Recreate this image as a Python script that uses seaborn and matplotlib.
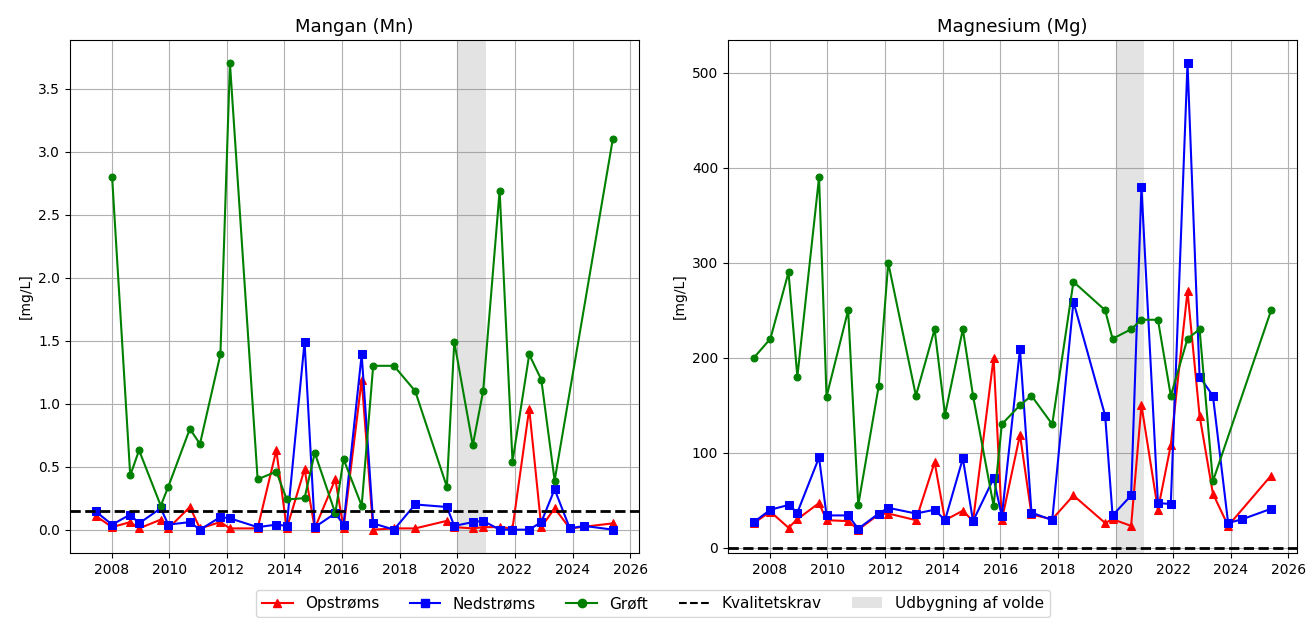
import numpy as np
import pandas as pd
import matplotlib
matplotlib.use('Agg')
import matplotlib.pyplot as plt
import seaborn as sns
from matplotlib.lines import Line2D
from matplotlib.patches import Patch

# prøvetagningsdatoer
datoer = ['2007-06-13', '2008-01-08', '2008-08-25', '2008-12-15', '2009-09-16',
          '2009-12-20', '2010-09-20', '2011-01-26', '2011-10-12', '2012-02-10',
          '2013-01-26', '2013-09-20', '2014-01-30', '2014-09-13', '2015-01-20',
          '2015-10-08', '2016-01-20', '2016-09-06', '2017-01-30', '2017-10-20',
          '2018-07-16', '2019-08-22', '2019-11-24', '2020-07-16', '2020-11-24',
          '2021-06-21', '2021-12-01', '2022-07-01', '2022-12-01', '2023-05-19',
          '2023-11-28', '2024-05-26', '2025-05-26']

nan = np.nan

# Mangan (Mn) [mg/L]
mn_op = [0.11, 0.02, 0.06, 0.01, 0.08, 0.01, 0.18, 0.01, 0.06, 0.01,
         0.01, 0.63, 0.01, 0.48, 0.01, 0.40, 0.01, 1.19, 0.0, 0.01,
         0.01, 0.07, 0.02, 0.01, 0.02, 0.02, 0.01, 0.96, 0.02, 0.17,
         0.01, nan, 0.05]
mn_ned = [0.145, 0.04, 0.12, 0.05, 0.17, 0.04, 0.06, 0.0, 0.10, 0.09,
          0.02, 0.04, 0.03, 1.49, 0.02, 0.13, 0.04, 1.39, 0.05, 0.0,
          0.20, 0.18, 0.03, 0.06, 0.07, 0.0, 0.0, 0.0, 0.06, 0.32,
          0.01, 0.03, 0.0]
mn_groeft = [nan, 2.80, 0.43, 0.63, 0.19, 0.34, 0.80, 0.68, 1.39, 3.70,
             0.40, 0.46, 0.24, 0.25, 0.61, 0.13, 0.56, 0.19, 1.30, 1.30,
             1.10, 0.34, 1.49, 0.67, 1.10, 2.69, 0.54, 1.39, 1.19, 0.39,
             nan, nan, 3.10]
mn_krav = 0.15

# Magnesium (Mg) [mg/L]
mg_op = [26, 38, 21, 30, 47, 29, 28, 19, 35, 36,
         29, 90, 29, 39, 28, 200, 29, 119, 35, 30,
         55, 26, 30, 23, 150, 40, 108, 270, 139, 57,
         23, nan, 76]
mg_ned = [27, 40, 45, 37, 95, 34, 34, 20, 36, 42,
          36, 40, 29, 94, 28, 73, 33, 209, 37, 29,
          259, 139, 34, 55, 380, 47, 46, 510, 180, 160,
          26, 30, 41]
mg_groeft = [200, 220, 290, 180, 390, 159, 250, 45, 170, 300,
             160, 230, 140, 230, 160, 44, 130, 150, 160, 130,
             280, 250, 220, 230, 240, 240, 160, 220, 230, 70,
             nan, nan, 250]
mg_krav = 0

udbygning = ('2020-01-01', '2021-01-01')

dato = pd.to_datetime(datoer)

fig, axes = plt.subplots(1, 2, figsize=(13.06, 6.18), dpi=100)

def tegn(ax, op, ned, groeft, krav, titel):
    df = pd.DataFrame({'dato': dato, 'op': op, 'ned': ned, 'gr': groeft})
    d = df.dropna(subset=['op'])
    sns.lineplot(x=d['dato'], y=d['op'], ax=ax, color='red', marker='^',
                 markersize=6, markeredgecolor='red', linewidth=1.5, zorder=3)
    d = df.dropna(subset=['ned'])
    sns.lineplot(x=d['dato'], y=d['ned'], ax=ax, color='blue', marker='s',
                 markersize=6, markeredgecolor='blue', linewidth=1.5, zorder=3)
    d = df.dropna(subset=['gr'])
    sns.lineplot(x=d['dato'], y=d['gr'], ax=ax, color='green', marker='o',
                 markersize=5, markeredgecolor='green', linewidth=1.5, zorder=3)
    ax.axhline(krav, color='black', linestyle='--', linewidth=2, zorder=4)
    ax.axvspan(pd.Timestamp(udbygning[0]), pd.Timestamp(udbygning[1]),
               color='grey', alpha=0.22, linewidth=0, zorder=1)
    ax.set_title(titel, fontsize=13)
    ax.set_ylabel('[mg/L]')
    ax.set_xlabel('')
    ax.grid(True, color='#b0b0b0', linewidth=0.8)
    ax.set_axisbelow(True)

tegn(axes[0], mn_op, mn_ned, mn_groeft, mn_krav, 'Mangan (Mn)')
tegn(axes[1], mg_op, mg_ned, mg_groeft, mg_krav, 'Magnesium (Mg)')

handles = [
    Line2D([], [], color='red', marker='^', label='Opstrøms'),
    Line2D([], [], color='blue', marker='s', label='Nedstrøms'),
    Line2D([], [], color='green', marker='o', label='Grøft'),
    Line2D([], [], color='black', linestyle='--', label='Kvalitetskrav'),
    Patch(facecolor='grey', alpha=0.22, label='Udbygning af volde'),
]
fig.legend(handles=handles, loc='lower center', ncol=5, frameon=True,
           fontsize=11, bbox_to_anchor=(0.5, -0.011))

plt.subplots_adjust(left=0.0534, right=0.9931, top=0.9353, bottom=0.1052, wspace=0.157)
plt.savefig('out.png')
